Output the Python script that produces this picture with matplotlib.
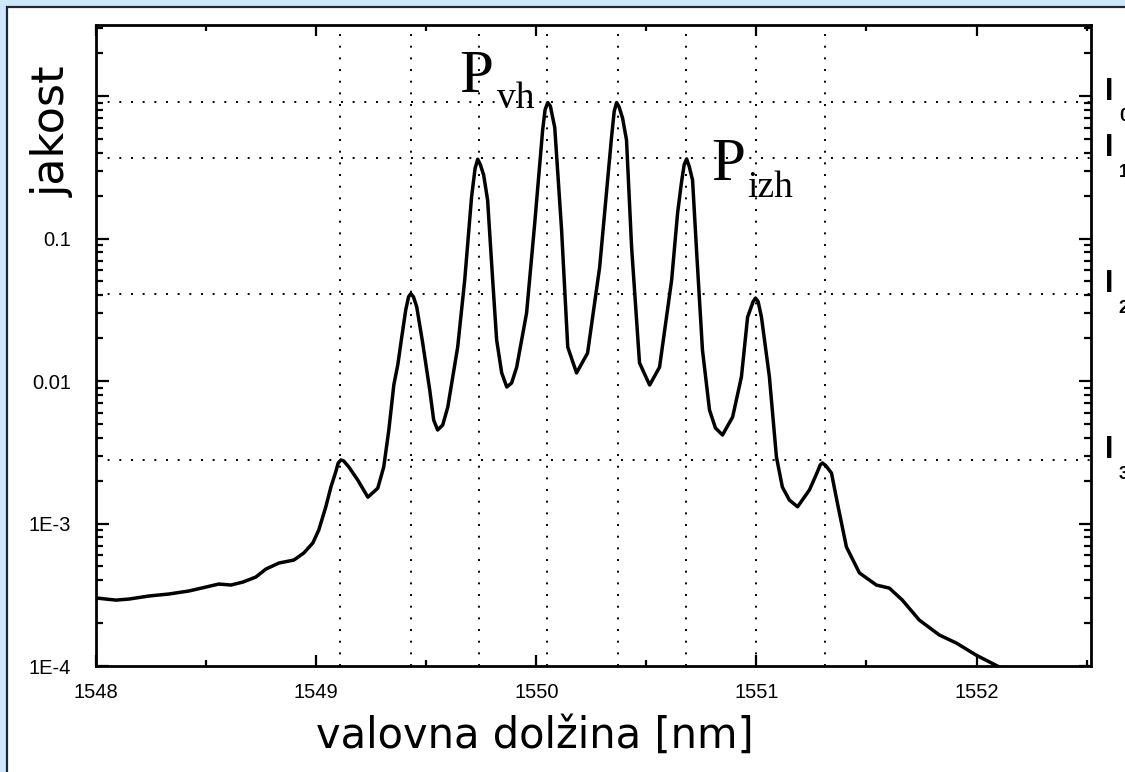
import matplotlib.pyplot as plt
from matplotlib.patches import Rectangle
from matplotlib.ticker import LogLocator, MultipleLocator, NullFormatter

# ---------------------------------------------------------------------------
# data
# ---------------------------------------------------------------------------
wavelength = [
    1548.000, 1548.091, 1548.150, 1548.241, 1548.331, 1548.422, 1548.499,
    1548.558, 1548.613, 1548.667, 1548.726, 1548.772, 1548.831, 1548.899,
    1548.944, 1548.985, 1549.012, 1549.044, 1549.067, 1549.089, 1549.100,
    1549.112, 1549.125, 1549.148, 1549.189, 1549.235, 1549.280, 1549.307,
    1549.330, 1549.353, 1549.371, 1549.389, 1549.407, 1549.420, 1549.430,
    1549.442, 1549.457, 1549.484, 1549.516, 1549.534, 1549.552, 1549.575,
    1549.598, 1549.643, 1549.675, 1549.706, 1549.722, 1549.734, 1549.746,
    1549.761, 1549.779, 1549.802, 1549.820, 1549.843, 1549.866, 1549.888,
    1549.911, 1549.956, 1549.993, 1550.029, 1550.040, 1550.052, 1550.064,
    1550.084, 1550.115, 1550.143, 1550.183, 1550.233, 1550.288, 1550.342,
    1550.354, 1550.365, 1550.376, 1550.392, 1550.410, 1550.433, 1550.469,
    1550.515, 1550.560, 1550.615, 1550.642, 1550.660, 1550.672, 1550.683,
    1550.695, 1550.710, 1550.728, 1550.755, 1550.787, 1550.814, 1550.846,
    1550.892, 1550.932, 1550.960, 1550.985, 1550.996, 1551.008, 1551.023,
    1551.059, 1551.091, 1551.118, 1551.150, 1551.187, 1551.241, 1551.277,
    1551.290, 1551.300, 1551.315, 1551.341, 1551.368, 1551.409, 1551.468,
    1551.545, 1551.604, 1551.663, 1551.740, 1551.831, 1551.908, 1551.999,
    1552.103, 1552.149,
]
intensity = [
    3.00e-4, 2.90e-4, 2.95e-4, 3.10e-4, 3.20e-4, 3.36e-4, 3.58e-4,
    3.76e-4, 3.70e-4, 3.88e-4, 4.21e-4, 4.79e-4, 5.28e-4, 5.54e-4,
    6.21e-4, 7.30e-4, 9.00e-4, 1.31e-3, 1.80e-3, 2.30e-3, 2.65e-3,
    2.79e-3, 2.75e-3, 2.50e-3, 2.02e-3, 1.53e-3, 1.77e-3, 2.49e-3,
    4.50e-3, 9.40e-3, 1.30e-2, 2.04e-2, 3.15e-2, 3.90e-2, 4.10e-2,
    3.90e-2, 3.31e-2, 1.85e-2, 8.65e-3, 5.32e-3, 4.53e-3, 4.91e-3,
    6.56e-3, 1.73e-2, 5.11e-2, 0.195, 0.310, 0.360, 0.330,
    0.279, 0.186, 5.11e-2, 1.94e-2, 1.14e-2, 9.08e-3, 9.68e-3,
    1.25e-2, 3.00e-2, 0.128, 0.577, 0.800, 0.900, 0.850,
    0.600, 0.115, 1.73e-2, 1.14e-2, 1.57e-2, 6.30e-2, 0.515,
    0.780, 0.900, 0.840, 0.700, 0.491, 8.71e-2, 1.34e-2,
    9.37e-3, 1.25e-2, 5.11e-2, 0.151, 0.250, 0.330, 0.362,
    0.320, 0.257, 8.30e-2, 1.65e-2, 6.26e-3, 4.68e-3, 4.18e-3,
    5.59e-3, 1.07e-2, 2.81e-2, 3.60e-2, 3.82e-2, 3.60e-2, 2.81e-2,
    1.07e-2, 2.93e-3, 1.80e-3, 1.46e-3, 1.31e-3, 1.72e-3, 2.30e-3,
    2.58e-3, 2.66e-3, 2.55e-3, 2.26e-3, 1.39e-3, 6.84e-4, 4.50e-4,
    3.70e-4, 3.52e-4, 2.90e-4, 2.10e-4, 1.65e-4, 1.45e-4, 1.19e-4,
    9.85e-5, 9.00e-5,
]

# dotted guide lines
peak_nm = [1549.11, 1549.43, 1549.74, 1550.05, 1550.37, 1550.68, 1551.00, 1551.31]
level_values = [0.908, 0.367, 0.0408, 0.00279]
level_names = ["0", "1", "2", "3"]

xtick_values = [1548, 1549, 1550, 1551, 1552]
ytick_values = [1e-4, 1e-3, 1e-2, 1e-1, 1]
ytick_labels = ["1E-4", "1E-3", "0.01", "0.1", ""]

BG_BLUE = "#cce8fa"
BORDER = "#1e2630"

# ---------------------------------------------------------------------------
# figure
# ---------------------------------------------------------------------------
fig = plt.figure(figsize=(11.25, 7.72), dpi=100, facecolor=BG_BLUE)
fig.patches.append(Rectangle((7 / 1125, -0.1), 1.2, 1.0 - 7 / 772 + 0.1,
                             transform=fig.transFigure, facecolor="white",
                             edgecolor=BORDER, linewidth=1.6, zorder=-10))

ax = fig.add_axes([96 / 1125, 106 / 772, 995 / 1125, 641 / 772])
ax.set_zorder(5)
ax.set_facecolor("white")
ax.set_yscale("log")
ax.set_xlim(1548, 1552.52)
ax.set_ylim(1e-4, 3.15)

for x in peak_nm:
    ax.axvline(x, color="black", linestyle=(0, (1, 5)), linewidth=1.4, zorder=1)
for y in level_values:
    ax.axhline(y, color="black", linestyle=(0, (1, 5)), linewidth=1.4, zorder=1)

ax.plot(wavelength, intensity, color="black", linewidth=2.5, zorder=3,
        solid_joinstyle="round", solid_capstyle="round")

# ticks
tick_font = {"family": "Liberation Sans", "size": 14.5}
ax.set_xticks(xtick_values)
ax.set_xticklabels([str(v) for v in xtick_values], fontdict=tick_font)
ax.xaxis.set_minor_locator(MultipleLocator(0.5))
ax.set_yticks(ytick_values)
ax.set_yticklabels(ytick_labels, fontdict=tick_font)
ax.yaxis.set_minor_locator(LogLocator(base=10, subs=range(2, 10)))
ax.yaxis.set_minor_formatter(NullFormatter())

ax.tick_params(which="both", direction="in", top=True, right=True,
               color="black", width=1.6)
ax.tick_params(axis="y", which="major", length=9, pad=18)
ax.tick_params(axis="y", which="minor", length=5)
ax.tick_params(axis="x", which="major", length=8, pad=12)
ax.tick_params(axis="x", which="minor", length=4)

for s in ax.spines.values():
    s.set_linewidth(2.0)
    s.set_color("black")

# axis labels
ax.set_xlabel("valovna dolžina [nm]", fontsize=30, family="DejaVu Sans")
ax.xaxis.set_label_coords(0.441, -0.128)
ax.xaxis.label.set_va("baseline")
ax.text(-0.0442, 0.835, "jakost", rotation=90, fontsize=32,
        family="DejaVu Sans", ha="center", va="center", transform=ax.transAxes)

# P labels
serif = "Liberation Serif"
ax.text(1549.652, 1.067, "P", fontsize=44, family=serif, va="baseline")
ax.text(1549.820, 0.824, "vh", fontsize=27, family=serif, va="baseline")
ax.text(1550.796, 0.257, "P", fontsize=44, family=serif, va="baseline")
ax.text(1550.960, 0.195, "izh", fontsize=27, family=serif, va="baseline")

# I0..I3 labels at the right edge (partly cut by the slide edge, as in the scan)
for y, name in zip(level_values, level_names):
    ax.text(1.014, y * 1.04, "I", fontsize=22, fontweight="bold",
            family="Liberation Sans", ha="left", va="baseline",
            transform=ax.get_yaxis_transform(), clip_on=False)
    ax.text(1.028, y / 1.35, name, fontsize=13, fontweight="bold",
            family="Liberation Sans", ha="left", va="baseline",
            transform=ax.get_yaxis_transform(), clip_on=False)

fig.savefig("out.png", dpi=100, facecolor=BG_BLUE)
